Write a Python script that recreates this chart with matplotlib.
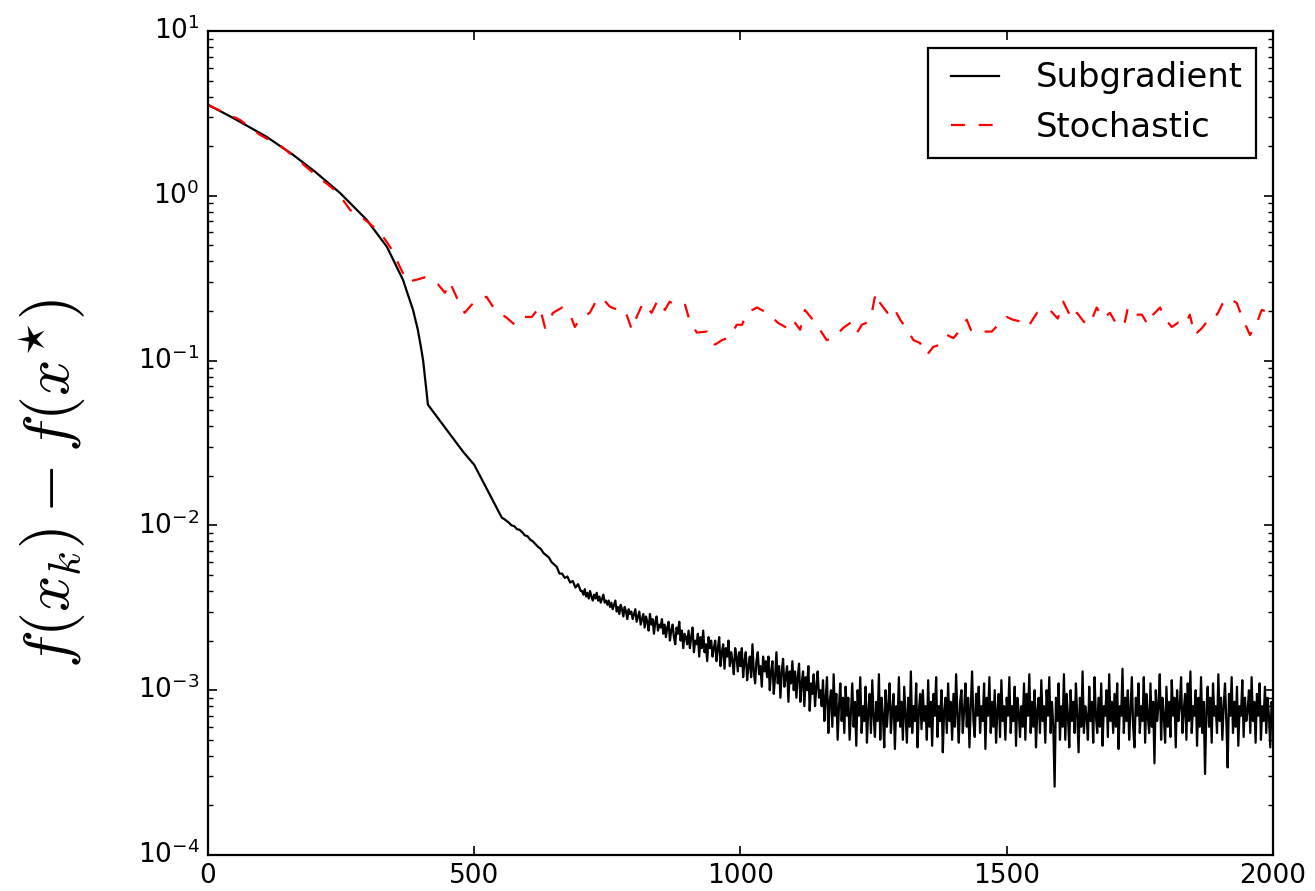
import numpy as np
import matplotlib
matplotlib.use('Agg')
import matplotlib.pyplot as plt

plt.style.use('classic')

# Subgradient: smooth head
sub_head_x = [0, 47, 110, 160, 201, 248, 298, 336, 366, 385, 394, 400, 404, 408, 413, 479, 500, 552]
sub_head_y = [3.57, 2.97, 2.28, 1.77, 1.40, 1.04, 0.715, 0.49, 0.31, 0.203, 0.154, 0.12, 0.1,
              0.0764, 0.054, 0.028, 0.0233, 0.0111]

# start of the noisy part, every 5 iterations from 555 to 700, units of 1e-4
sub_a_start, sub_a_step = 555, 5
sub_a_e4 = [
    110, 107, 104, 100, 99, 95, 94, 91, 87, 86,
    82, 80, 77, 74, 72, 68, 66, 64, 60, 58,
    56, 51, 51, 48, 49, 45, 46, 42, 44, 40,
]

# noisy tail, every 2.5 iterations from 702.5 to 2000, units of 1e-4
sub_b_start, sub_b_step = 702.5, 2.5
sub_b_e4 = [
    40, 38, 41, 37, 39, 36, 40, 37, 35, 38, 36, 39, 35, 37, 34, 36, 38, 34, 35, 33,
    35, 32, 34, 31, 33, 35, 30, 32, 29, 33, 31, 28, 32, 30, 27, 31, 29, 30, 27, 29,
    31, 26, 28, 30, 25, 27, 29, 24, 28, 26, 23, 29, 25, 27, 22, 26, 28, 23, 25, 24,
    27, 22, 25, 21, 24, 26, 20, 23, 25, 21, 19, 24, 22, 26, 20, 23, 18, 22, 21, 19,
    23, 18, 21, 24, 17, 20, 19, 22, 16, 21, 18, 23, 17, 19, 15, 21, 18, 20, 16, 18,
    20, 15, 18, 21, 14, 17, 19, 13.5, 18, 16, 20, 14, 17, 15, 12.5, 18, 16, 13, 17, 14,
    18, 12, 15, 17, 11.5, 14, 16, 12, 19, 13, 11, 15, 17, 12.5, 14, 10.5, 16, 13, 15, 12,
    16, 10, 13, 15, 9.5, 12, 17, 11, 14, 9, 13, 15.5, 10.5, 12, 14, 8.5, 13, 11, 15, 10,
    13, 9, 12, 14.5, 8.5, 11, 13, 8, 12, 10, 14, 7.5, 11, 9.5, 12.5, 8, 10.5, 13, 9, 10,
    8, 11.5, 6.5, 9, 12, 5.5, 8.5, 10, 6, 12.5, 7, 9.5, 5, 8, 11, 6.5, 9, 5.5, 10.5, 7,
    9, 5, 7.5, 11, 6, 8.5, 4.6, 10, 7, 12, 5.5, 8, 6.5, 10.5, 4.8, 7.5, 9.5, 5.5, 11.5, 7,
    5.2, 8.5, 6.5, 12.5, 5, 9, 7, 4.5, 10, 6, 8, 11, 5.5, 7.5, 9.5, 4.4, 8, 6.5, 12, 6,
    8.5, 5, 10.5, 7, 4.8, 9, 6, 13, 5.5, 8, 6.5, 11, 4.5, 7.5, 9.5, 5.8, 10, 6.5, 8, 5,
    11.5, 6, 8.5, 4.6, 9.5, 7, 12, 5.2, 8, 6.5, 10, 4.2, 7.5, 9, 5.5, 11, 6.5, 8.5, 5, 9.5,
    6, 12.5, 7, 4.8, 8.5, 10, 5.5, 7.5, 11, 6, 9, 4.5, 8, 13, 6.5, 5.2, 9.5, 7, 10.5, 5.5,
    8, 6.5, 11, 4.4, 9, 7, 12, 5.5, 8.5, 6, 10, 4.8, 7.5, 9.5, 5.2, 11.5, 6.5, 8, 5, 9,
    7, 12, 5.5, 8, 6.5, 10.5, 4.6, 9, 7.5, 5.2, 8, 6, 11, 5, 9.5, 7, 12.5, 5.5, 8.5, 6,
    10, 4.5, 7.5, 9, 5.5, 11.5, 6.5, 8, 4.8, 10, 7, 12, 5.5, 8.5, 6, 2.6, 9, 6.5, 11, 5,
    8, 6, 12.5, 5, 9.5, 7, 4.5, 10, 6.5, 8.5, 5.5, 11, 7, 4.2, 9, 6, 13, 5.5, 8, 7,
    5, 10.5, 6.5, 8.5, 4.8, 12, 7, 5.5, 9, 6, 11, 4.6, 8, 7, 10, 5.2, 12.5, 6.5, 8.5, 5.5,
    9.5, 6, 11, 4.4, 8, 7, 13.5, 5.5, 9, 6.5, 10, 5, 7.5, 12, 6, 4.5, 9, 7, 11, 5.5,
    8, 6.5, 12, 4.8, 9.5, 7, 5.5, 11, 6, 8.5, 3.6, 10, 6.5, 8, 12.5, 5, 9, 7, 4.8, 10.5,
    6, 8.5, 5.2, 11.5, 7, 9, 4.5, 10, 6.5, 8, 12, 5.5, 7.5, 9.5, 5, 11, 6.5, 13, 5.5, 8,
    7, 10, 4.6, 9, 6, 12, 5.5, 8.5, 3.1, 7.5, 10.5, 6, 9, 4.8, 11, 7, 8, 5.5, 12.5, 6.5,
    9, 5, 8, 11, 6.5, 3.4, 9.5, 7, 12, 5.5, 8.5, 6, 10.5, 4.6, 8, 7, 11.5, 5.2, 9, 6.5,
    7.5, 10, 5.5, 12, 6.5, 8.5, 4.8, 9.5, 7, 11, 5, 8, 6.5, 10.5, 5.5, 9, 7, 4.5, 8.5, 6.8,
]

# Stochastic
sto_x = [
    0, 30, 60, 98, 139, 173, 207, 242, 267, 295,
    323, 342, 357, 374, 392, 407, 421, 432, 445, 454,
    469, 482, 495, 507, 523, 539, 561, 576, 592, 608,
    623, 633, 648, 665, 680, 689, 699, 717, 730, 740,
    755, 770, 783, 796, 805, 817, 833, 845, 858, 867,
    882, 896, 905, 918, 937, 952, 965, 980, 993, 1003,
    1012, 1031, 1046, 1059, 1070, 1087, 1098, 1112, 1121, 1134,
    1146, 1162, 1177, 1193, 1209, 1219, 1228, 1237, 1247, 1254,
    1262, 1276, 1287, 1300, 1313, 1325, 1337, 1350, 1362, 1375,
    1388, 1400, 1413, 1425, 1434, 1446, 1459, 1472, 1484, 1500,
    1512, 1528, 1540, 1557, 1566, 1581, 1596, 1606, 1623, 1632,
    1645, 1656, 1669, 1681, 1694, 1709, 1722, 1728, 1745, 1754,
    1765, 1775, 1788, 1797, 1810, 1822, 1835, 1844, 1853, 1867,
    1876, 1885, 1897, 1906, 1917, 1932, 1944, 1957, 1970, 1979,
    1989, 2000,
]
sto_y = [
    3.55, 3.2, 2.89, 2.34, 1.98, 1.61, 1.30, 1.06, 0.82, 0.715,
    0.60, 0.49, 0.39, 0.30, 0.31, 0.32, 0.30, 0.29, 0.258, 0.30,
    0.234, 0.195, 0.218, 0.234, 0.244, 0.203, 0.182, 0.165, 0.184, 0.184,
    0.212, 0.158, 0.195, 0.21, 0.19, 0.16, 0.18, 0.195, 0.234, 0.24,
    0.212, 0.203, 0.203, 0.154, 0.184, 0.224, 0.195, 0.234, 0.203, 0.228,
    0.212, 0.218, 0.172, 0.148, 0.15, 0.125, 0.133, 0.139, 0.165, 0.165,
    0.195, 0.21, 0.198, 0.184, 0.17, 0.158, 0.177, 0.154, 0.203, 0.18,
    0.16, 0.133, 0.139, 0.158, 0.172, 0.148, 0.165, 0.17, 0.198, 0.258,
    0.224, 0.195, 0.212, 0.177, 0.154, 0.133, 0.128, 0.108, 0.121, 0.125,
    0.143, 0.137, 0.154, 0.177, 0.15, 0.15, 0.15, 0.15, 0.165, 0.184,
    0.177, 0.172, 0.16, 0.195, 0.198, 0.203, 0.18, 0.228, 0.177, 0.195,
    0.172, 0.165, 0.21, 0.18, 0.195, 0.16, 0.172, 0.212, 0.19, 0.19,
    0.165, 0.19, 0.21, 0.18, 0.16, 0.17, 0.165, 0.19, 0.143, 0.158,
    0.172, 0.172, 0.195, 0.224, 0.24, 0.224, 0.177, 0.143, 0.17, 0.203,
    0.198, 0.177,
]

sub_a_x = sub_a_start + sub_a_step * np.arange(len(sub_a_e4))
sub_b_x = sub_b_start + sub_b_step * np.arange(len(sub_b_e4))
sub_x = np.concatenate([sub_head_x, sub_a_x, sub_b_x])
sub_y = np.concatenate([sub_head_y, np.array(sub_a_e4) * 1e-4, np.array(sub_b_e4) * 1e-4])

fig = plt.figure(figsize=(13.15, 8.91), dpi=100, facecolor='white')
ax = fig.add_subplot(111)
fig.subplots_adjust(left=0.1582, right=0.968, bottom=0.0404, top=0.9652)

ax.semilogy(sub_x, sub_y, 'k-', lw=1.6, label='Subgradient')
ax.semilogy(sto_x, sto_y, 'r--', lw=1.6, dashes=(10, 10), label='Stochastic')

ax.set_xlim(0, 2000)
ax.set_ylim(1e-4, 1e1)
ax.set_xticks([0, 500, 1000, 1500, 2000])

ax.tick_params(which='major', length=6.5, width=1.2, labelsize=19, pad=6)
ax.tick_params(which='minor', length=3.5, width=1.0)
for s in ax.spines.values():
    s.set_linewidth(1.6)

ax.set_ylabel(r'$f(x_k) - f(x^{\star})$', fontsize=46, math_fontfamily='cm', labelpad=36)
ax.yaxis.label.set_y(0.451)

leg = ax.legend(loc='upper right', fontsize=24.3, handlelength=2.0, handletextpad=0.8,
                borderpad=0.4, labelspacing=0.5, borderaxespad=0.5, fancybox=False)
leg.get_frame().set_linewidth(1.6)
leg.get_frame().set_edgecolor('black')

fig.savefig('out.png', dpi=100, facecolor='white')
